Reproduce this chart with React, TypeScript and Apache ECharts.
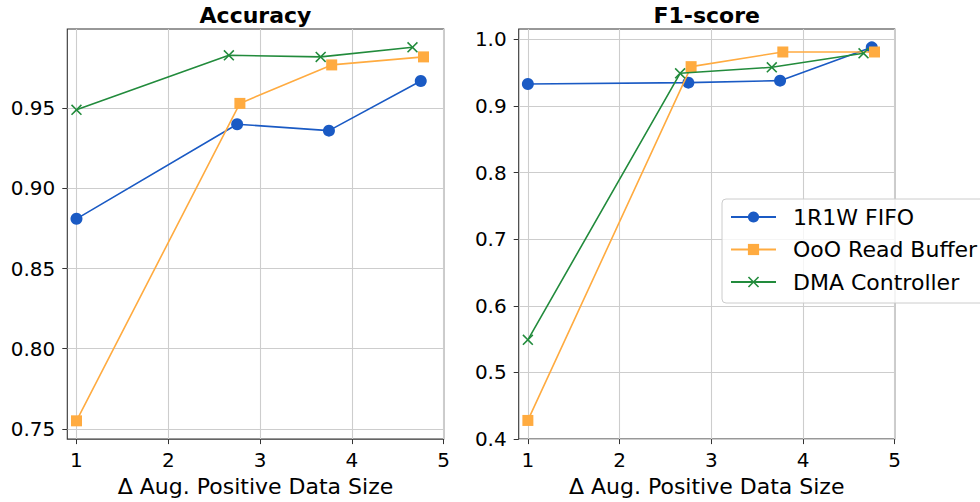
import React, { useEffect, useRef } from "react";
import * as echarts from "echarts";

const seriesNames = ["1R1W FIFO", "OoO Read Buffer", "DMA Controller"];
const xFifo = [1, 2.75, 3.75, 4.75];
const xOoo = [1, 2.78, 3.78, 4.78];
const xDma = [1, 2.66, 3.66, 4.66];

const accFifo = [0.881, 0.94, 0.936, 0.967];
const accOoo = [0.755, 0.953, 0.977, 0.982];
const accDma = [0.949, 0.983, 0.982, 0.988];

const f1Fifo = [0.933, 0.935, 0.938, 0.988];
const f1Ooo = [0.428, 0.959, 0.981, 0.981];
const f1Dma = [0.549, 0.949, 0.958, 0.979];

const xTicks = [1, 2, 3, 4, 5];
const accTicks = [0.75, 0.8, 0.85, 0.9, 0.95];
const f1Ticks = [0.4, 0.5, 0.6, 0.7, 0.8, 0.9, 1.0];

const titles = ["Accuracy", "F1-score"];
const xLabel = "\u0394 Aug. Positive Data Size";

const colors = ["#1a5ac4", "#ffab40", "#228b3c"];
const xSymbol =
  "path://M0,1L1,0L5,4L9,0L10,1L6,5L10,9L9,10L5,6L1,10L0,9L4,5Z";
const symbols = ["circle", "rect", xSymbol];
const symbolSizes = [12, 11, 11];

const FONT = "DejaVu Sans";

function zip(xs: number[], ys: number[]) {
  return xs.map((x, i) => [x, ys[i]]);
}

export default function App() {
  const ref = useRef<HTMLDivElement>(null);
  useEffect(() => {
    document.body.style.margin = "0";
    const chart = echarts.init(ref.current!, null, { renderer: "svg" });
    const grids = [
      { left: 67.3, top: 29, width: 376.4, height: 410.3 },
      { left: 518.7, top: 29, width: 376, height: 410.3 },
    ];
    const xAxisBase = (gi: number) => ({
      type: "value",
      gridIndex: gi,
      min: 0.9,
      max: 5,
      name: xLabel,
      nameLocation: "middle",
      nameGap: 35,
      nameTextStyle: { fontSize: 22, fontFamily: FONT, color: "#000", verticalAlign: "middle" },
      axisLine: { show: false },
      axisTick: {
        show: true,
        length: 5,
        customValues: xTicks,
        lineStyle: { color: "#333", width: 1 },
      },
      axisLabel: {
        customValues: xTicks,
        fontSize: 20,
        fontFamily: FONT,
        color: "#000",
        margin: 11,
        formatter: (v: number) => String(v),
      },
      splitLine: { show: true, lineStyle: { color: "#cdcdcd", width: 1.1 } },
    });
    const yAxisBase = (gi: number, min: number, max: number, ticks: number[], dec: number) => ({
      type: "value",
      gridIndex: gi,
      min,
      max,
      axisLine: { show: false },
      axisTick: {
        show: true,
        length: 5,
        customValues: ticks,
        lineStyle: { color: "#333", width: 1 },
      },
      axisLabel: {
        customValues: ticks,
        fontSize: 20,
        fontFamily: FONT,
        color: "#000",
        margin: 12,
        formatter: (v: number) => v.toFixed(dec),
      },
      splitLine: { show: true, lineStyle: { color: "#cdcdcd", width: 1.1 } },
    });
    const accData = [accFifo, accOoo, accDma];
    const f1Data = [f1Fifo, f1Ooo, f1Dma];
    const xs = [xFifo, xOoo, xDma];
    const series: any[] = [];
    [accData, f1Data].forEach((set, gi) => {
      set.forEach((ys, si) => {
        series.push({
          type: "line",
          name: seriesNames[si],
          xAxisIndex: gi,
          yAxisIndex: gi,
          data: zip(xs[si], ys),
          symbol: symbols[si],
          symbolSize: symbolSizes[si],
          showSymbol: true,
          lineStyle: { color: colors[si], width: 1.6 },
          itemStyle: { color: colors[si], borderWidth: 0 },
          z: 3 + si,
        });
      });
    });
    chart.setOption({
      animation: false,
      grid: grids.map((g) => ({
        ...g,
        show: true,
        borderColor: "#333",
        borderWidth: 1.1,
        backgroundColor: "transparent",
      })),
      xAxis: [xAxisBase(0), xAxisBase(1)],
      yAxis: [
        yAxisBase(0, 0.7436, 0.9994, accTicks, 2),
        yAxisBase(1, 0.4, 1.0155, f1Ticks, 1),
      ],
      legend: {
        orient: "vertical",
        left: 722,
        top: 199,
        padding: [7, 20, 10, 8],
        itemWidth: 45,
        itemHeight: 14,
        itemGap: 10.5,
        backgroundColor: "rgba(255,255,255,0.8)",
        borderColor: "#cccccc",
        borderWidth: 1,
        borderRadius: 4,
        textStyle: {
          fontSize: 22,
          fontFamily: FONT,
          color: "#000",
          lineHeight: 22,
          padding: [0, 0, 0, 12],
        },
        data: seriesNames,
      },
      graphic: titles.map((t, i) => ({
        type: "text",
        x: grids[i].left + grids[i].width / 2,
        y: 15,
        z: 10,
        style: {
          text: t,
          font: `bold 22px ${FONT}`,
          fill: "#000",
          textAlign: "center",
          textVerticalAlign: "middle",
        },
      })),
      series,
    });
    return () => chart.dispose();
  }, []);
  return <div ref={ref} style={{ width: 980, height: 502 }} />;
}
